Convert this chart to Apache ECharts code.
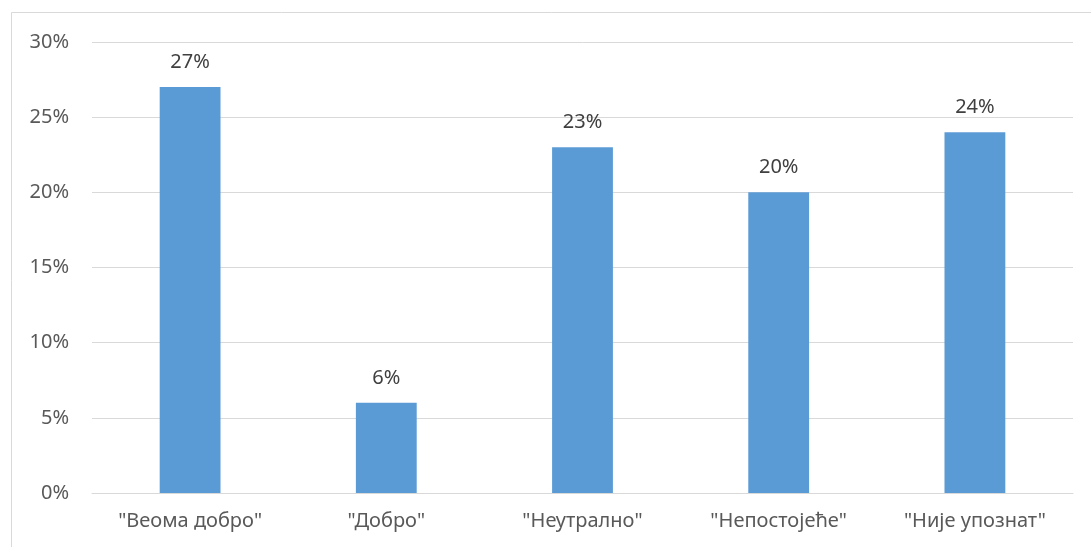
<!DOCTYPE html>
<html><head><meta charset="utf-8">
<script src="https://cdn.jsdelivr.net/npm/echarts@6/dist/echarts.min.js"></script>
<style>html,body{margin:0;padding:0;background:#fff}#c{width:1091px;height:547px}</style>
</head><body><div id="c"></div>
<script>
const categories = ['"Веома добро"', '"Добро"', '"Неутрално"', '"Непостојеће"', '"Није упознат"'];
const values = [27, 6, 23, 20, 24];
const yTicks = [0, 5, 10, 15, 20, 25, 30];
const font = '"Noto Sans", "Open Sans", sans-serif';
const chart = echarts.init(document.getElementById('c'), null, {renderer: 'canvas'});
chart.setOption({
  animation: false,
  backgroundColor: '#fff',
  graphic: [{type: 'rect', shape: {x: 11.5, y: 12.5, width: 1200, height: 700}, style: {fill: 'none', stroke: '#d9d9d9', lineWidth: 1}, silent: true}],
  grid: {left: 92, right: 18, top: 42, bottom: 54},
  xAxis: {
    type: 'category', data: categories,
    axisLine: {lineStyle: {color: '#d9d9d9', width: 1}},
    axisTick: {show: false},
    axisLabel: {color: '#595959', fontSize: 20, fontFamily: font, margin: 18}
  },
  yAxis: {
    type: 'value', min: yTicks[0], max: yTicks[yTicks.length - 1], interval: 5,
    axisLine: {show: false}, axisTick: {show: false},
    splitLine: {lineStyle: {color: '#d9d9d9', width: 1}},
    axisLabel: {color: '#595959', fontSize: 20, fontFamily: font, margin: 23, formatter: '{value}%'}
  },
  series: [{
    type: 'bar', data: values, barWidth: '31%',
    itemStyle: {color: '#5b9bd5'},
    label: {show: true, position: 'top', distance: 15, color: '#404040', fontSize: 20, fontFamily: font, formatter: '{c}%'}
  }]
});
</script></body></html>
